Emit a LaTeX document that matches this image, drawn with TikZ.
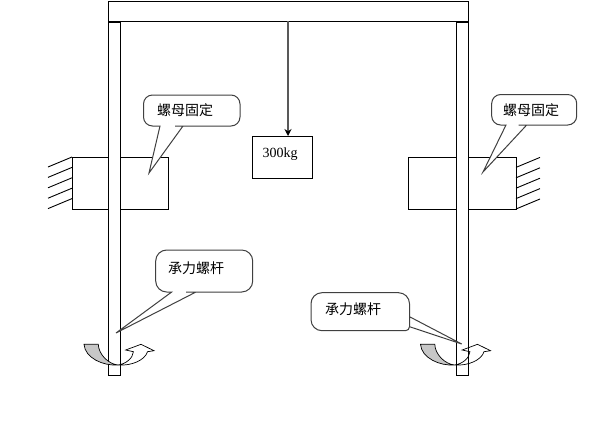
\documentclass[tikz,border=0pt]{standalone}
\usepackage{fontspec}
\setmainfont{Liberation Serif}
\newfontfamily\cjk{Noto Sans CJK SC}
\usetikzlibrary{arrows.meta}

\begin{document}
\begin{tikzpicture}[
  x=1pt,
  y=-1pt,
  >=Stealth,
  line width=0.9pt,
  part/.style={
    rectangle,
    draw=black,
    fill=white,
    inner sep=0pt,
    outer sep=0pt
  },
  rod/.style={
    part,
    minimum width=12pt,
    minimum height=353pt
  },
  nut/.style={
    part,
    minimum height=52pt
  },
  bubble/.style={draw=black!75, fill=white, line width=1pt},
  bubbletext/.style={font=\cjk\fontsize{14}{16}\selectfont, inner sep=0pt},
  flow/.style={-{Stealth[length=7pt,width=7pt,black]}, draw=black!65, line width=1.1pt}
]
\useasboundingbox (0,0) rectangle (589,439);

\node[part, minimum width=360pt, minimum height=20pt] (beam) at (288,11) {};
\node[part, minimum width=60pt, minimum height=42pt] (load) at (282,157) {};
\node[font=\fontsize{14}{16}\selectfont, inner sep=0pt] (loadtext) at (280,154) {300kg};
\draw[flow] (beam.south) -- (beam.south |- load.north);

% nuts and wall hatching
\node[nut, minimum width=96pt] (nutL) at (120,183) {};
\node[nut, minimum width=108pt] (nutR) at (462,183) {};
\foreach \i in {0,...,4} {
  \draw ([yshift=-10.4*\i]nutL.north west) -- ++(-24,10);
  \draw ([yshift=10.4*\i]nutR.south east) -- ++(24,-10);
}

\node[rod] (rodL) at (114,198.5) {};
\node[rod] (rodR) at (462,198.5) {};

% rotation arrows
\foreach \dx in {0,336.5} {
  \begin{scope}[shift={(\dx,0)}, line width=0.7pt]
    \draw[fill=black!22] (84,344.3) -- (98.3,344.3) .. controls (98.5,354) and (108,364) .. (118,365)
      .. controls (103,366) and (85,358) .. (84,344.3) -- cycle;
    \draw (118,365) .. controls (126,364) and (133,358) .. (133.4,351.7) -- (125.7,350) -- (141,344.3)
      -- (154,350.7) -- (147.5,351.7) .. controls (145,360) and (132,366) .. (118,365);
  \end{scope}
}

% callouts
\draw[bubble, rounded corners=9pt] (143.5,95) -- (240,95) -- (240,126) -- (184,126) [sharp corners] -- (183,126) -- (149,173)
  -- (160,126) [rounded corners=9pt] -- (143.5,126) -- cycle;
\node[bubbletext] (nuttextL) at (185,110) {螺母固定};

\draw[bubble, rounded corners=9pt] (491.7,94.5) -- (576.7,94.5) -- (576.7,125) -- (527.7,125) [sharp corners] -- (526.7,125) -- (483,172)
  -- (506,125) [rounded corners=9pt] -- (491.7,125) -- cycle;
\node[bubbletext] (nuttextR) at (531,110.5) {螺母固定};

\draw[bubble, rounded corners=11pt] (155.7,250) -- (252.7,250) -- (252.7,292) -- (197,292) [sharp corners] -- (196,292) -- (116,333)
  -- (171.7,292) [rounded corners=11pt] -- (155.7,292) -- cycle;
\node[bubbletext] (bolttextL) at (196,268) {承力螺杆};

\draw[bubble, rounded corners=11pt] (311,292.7) -- (409.5,292.7) -- (409.5,315.7) [sharp corners] -- (409.5,316.7) -- (461.7,344)
  -- (409.5,326.7) [rounded corners=4pt] -- (409.5,330.7) [rounded corners=11pt] -- (311,330.7) -- cycle;
\node[bubbletext] (bolttextR) at (353,309) {承力螺杆};

\end{tikzpicture}
\end{document}
